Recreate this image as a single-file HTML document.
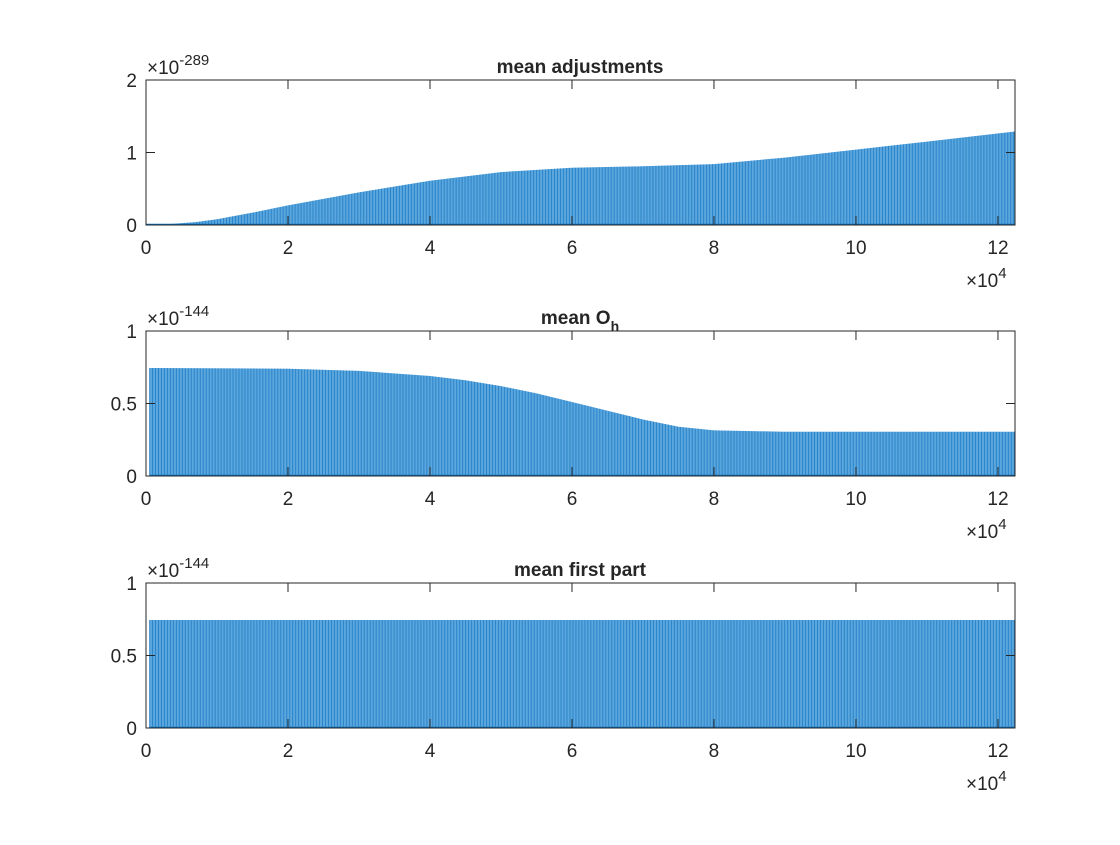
<!DOCTYPE html>
<html><head><meta charset="utf-8"><style>
body{margin:0;background:#fff}
svg text{font-family:"Liberation Sans",sans-serif;fill:#262626}
</style></head><body>
<svg id="c" width="1120" height="840" xmlns="http://www.w3.org/2000/svg"></svg>
<script>
const xTicks=[0,2,4,6,8,10,12];
const xs1=[0,0.3,0.7,1,1.5,2,3,4,5,6,7,8,9,10,11,12.24];
const ys1=[0,0.01,0.04,0.08,0.17,0.27,0.45,0.61,0.73,0.79,0.81,0.84,0.93,1.04,1.15,1.29];
const xs2=[0.05,2,3,4,4.5,5,5.5,6,6.5,7,7.5,8,9,12.24];
const ys2=[0.745,0.74,0.725,0.69,0.66,0.62,0.57,0.51,0.45,0.39,0.34,0.315,0.305,0.305];
const xs3=[0.05,12.24];
const ys3=[0.745,0.745];
const yTicks1=[0,1,2],yTicks2=[0,0.5,1],yTicks3=[0,0.5,1];
const yTickLabels1=["0","1","2"],yTickLabels2=["0","0.5","1"],yTickLabels3=["0","0.5","1"];
const titles=["mean adjustments","mean O","mean first part"];
const exps=["-289","-144","-144"];
const NS="http://www.w3.org/2000/svg";
const svg=document.getElementById('c');
function mk(t,a,p){const e=document.createElementNS(NS,t);for(const k in a)e.setAttribute(k,a[k]);(p||svg).appendChild(e);return e;}
const L=146,R=1015,XMAX=12.24;
const X=v=>L+(R-L)*v/XMAX;
function interp(xs,ys,x){if(x<xs[0]||x>xs[xs.length-1])return null;for(let i=1;i<xs.length;i++){if(x<=xs[i]){const t=(x-xs[i-1])/(xs[i]-xs[i-1]);return ys[i-1]+t*(ys[i]-ys[i-1]);}}return ys[ys.length-1];}
const panels=[{top:80,bot:225,ymax:2,xs:xs1,ys:ys1,yt:yTicks1,yl:yTickLabels1},
{top:331,bot:476,ymax:1,xs:xs2,ys:ys2,yt:yTicks2,yl:yTickLabels2},
{top:583,bot:728,ymax:1,xs:xs3,ys:ys3,yt:yTicks3,yl:yTickLabels3}];
panels.forEach((p,i)=>{
 const g=mk('g',{});
 
 
 const Y=v=>p.bot-(p.bot-p.top)*v/p.ymax;
 let d='M'+X(p.xs[0])+','+Y(0);
 p.xs.forEach((x,k)=>{d+=' L'+X(x)+','+Y(p.ys[k]);});
 d+=' L'+X(p.xs[p.xs.length-1])+','+Y(0)+'Z';
 const f=mk('path',{d:d,fill:'#5ba6dd'},g);
 
 
 const lg=mk('g',{stroke:'#0a6fbd','stroke-width':1,opacity:0.6},g);
 
 
 for(let x=p.xs[0];x<=XMAX;x+=0.042){
  const v=interp(p.xs,p.ys,x);if(v===null)continue;
  mk('line',{x1:X(x),x2:X(x),y1:Y(0),y2:Y(v)},lg);
 }
 mk('line',{x1:X(p.xs[0]),x2:R,y1:Y(0)-0.5,y2:Y(0)-0.5,stroke:'#0a6fbd','stroke-width':1.5},g);
 const b=mk('rect',{x:L,y:p.top,width:R-L,height:p.bot-p.top,fill:'none',stroke:'#262626','stroke-width':1},g);
 
 
 xTicks.forEach(t=>{
  mk('line',{x1:X(t),x2:X(t),y1:p.bot,y2:p.bot-9,stroke:'#262626'},g);
  mk('line',{x1:X(t),x2:X(t),y1:p.top,y2:p.top+9,stroke:'#262626'},g);
  const tx=mk('text',{x:X(t),y:p.bot+29,'text-anchor':'middle','font-size':19},g);
  tx.textContent=t;
  
  
 });
 p.yt.forEach((t,k)=>{
  mk('line',{x1:L,x2:L+9,y1:Y(t),y2:Y(t),stroke:'#262626'},g);
  mk('line',{x1:R,x2:R-9,y1:Y(t),y2:Y(t),stroke:'#262626'},g);
  const tx=mk('text',{x:L-9,y:Y(t)+7,'text-anchor':'end','font-size':19},g);
  tx.textContent=p.yl[k];
  
  
 });
 const ex=mk('text',{x:147,y:p.top-6,'font-size':19},g);
 ex.innerHTML='×10<tspan dy="-9" font-size="15">'+exps[i]+'</tspan>';
 
 
 const xe=mk('text',{x:966,y:p.bot+62,'font-size':19},g);
 xe.innerHTML='×10<tspan dy="-9" font-size="15">4</tspan>';
 
 
 const ti=mk('text',{x:580,y:p.top-7,'text-anchor':'middle','font-size':19,'font-weight':'bold'},g);
 ti.innerHTML=i===1?'mean O<tspan dy="7" font-size="14">h</tspan>':titles[i];
 
 
});
</script>
</body></html>
